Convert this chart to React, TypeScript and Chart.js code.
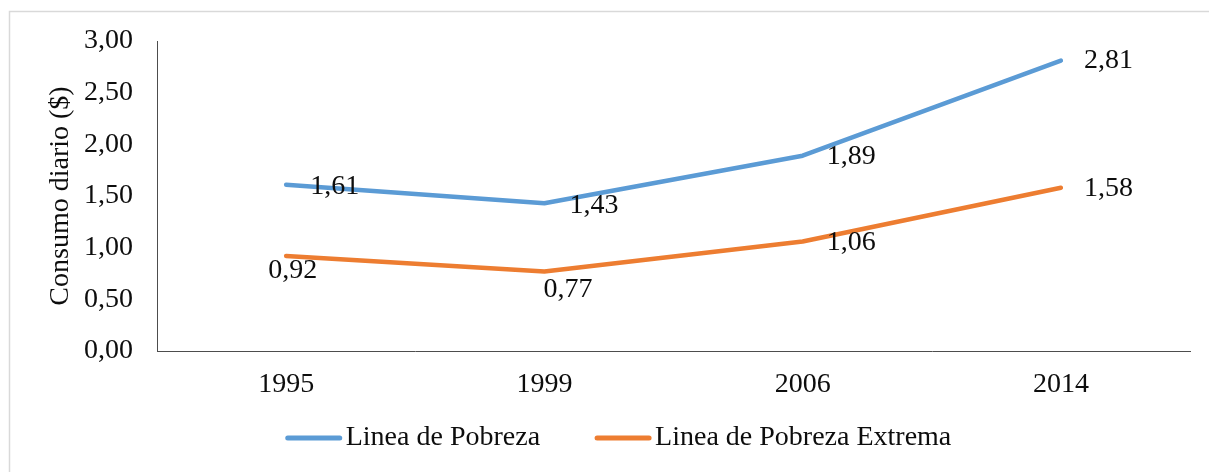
import React, { useEffect, useRef } from "react";
import { Chart, registerables } from "chart.js";
Chart.register(...registerables);

const categories = ["1995", "1999", "2006", "2014"];
const pobreza = [1.61, 1.43, 1.89, 2.81];
const pobrezaExtrema = [0.92, 0.77, 1.06, 1.58];
const seriesNames = ["Linea de Pobreza", "Linea de Pobreza Extrema"];
const yAxisTitle = "Consumo diario ($)";

const FONT = '"Liberation Serif", "Times New Roman", Times, serif';
const FONT_SIZE = 28;
const BLUE = "#5B9BD5";
const ORANGE = "#ED7D31";
const TEXT = "#0d0d0d";
const AXIS = "#4d4d4d";

const fmt = (v: number) => v.toFixed(2).replace(".", ",");

// per-dataset, per-point label offsets [dx, dy] (left-aligned text, dy = centre offset)
const labelOffsets: number[][][] = [
  [[24, 2], [25, 2], [24, 1], [23, 0]],
  [[-18, 15], [-1, 18], [24, 1], [23, 1]],
];

const framePlugin = {
  id: "frame",
  beforeDraw(chart: any) {
    const ctx = chart.ctx;
    ctx.save();
    ctx.fillStyle = "#ffffff";
    ctx.fillRect(0, 0, chart.width, chart.height);
    ctx.strokeStyle = "#d9d9d9";
    ctx.lineWidth = 1.5;
    ctx.strokeRect(9.5, 11.5, chart.width + 20, chart.height + 20);
    ctx.restore();
  },
};

const labelsPlugin = {
  id: "valueLabels",
  afterDatasetsDraw(chart: any) {
    const ctx = chart.ctx;
    ctx.save();
    ctx.font = `${FONT_SIZE}px ${FONT}`;
    ctx.fillStyle = TEXT;
    ctx.textAlign = "left";
    ctx.textBaseline = "middle";
    chart.data.datasets.forEach((ds: any, di: number) => {
      const meta = chart.getDatasetMeta(di);
      meta.data.forEach((pt: any, i: number) => {
        const off = labelOffsets[di][i];
        ctx.fillText(fmt(ds.data[i]), pt.x + off[0], pt.y + off[1]);
      });
    });
    ctx.restore();
  },
};

const legendPlugin = {
  id: "customLegend",
  afterDraw(chart: any) {
    const ctx = chart.ctx;
    ctx.save();
    ctx.font = `${FONT_SIZE}px ${FONT}`;
    const lineLen = 56;
    const gapText = 4;
    const gapItems = 55;
    const widths = chart.data.datasets.map((d: any) => ctx.measureText(d.label).width);
    const total = widths.reduce((a: number, w: number) => a + lineLen + gapText + w, 0) + gapItems * (widths.length - 1);
    let x = chart.width / 2 + 14 - total / 2;
    const y = 438;
    chart.data.datasets.forEach((d: any, i: number) => {
      ctx.strokeStyle = d.borderColor;
      ctx.lineWidth = 5;
      ctx.lineCap = "round";
      ctx.beginPath();
      ctx.moveTo(x + 2, y);
      ctx.lineTo(x + lineLen - 2, y);
      ctx.stroke();
      ctx.fillStyle = TEXT;
      ctx.textAlign = "left";
      ctx.textBaseline = "middle";
      ctx.fillText(d.label, x + lineLen + gapText, y);
      x += lineLen + gapText + widths[i] + gapItems;
    });
    ctx.restore();
  },
};

export default function App() {
  const ref = useRef<HTMLCanvasElement | null>(null);
  useEffect(() => {
    if (!ref.current) return;
    const chart = new Chart(ref.current, {
      type: "line",
      data: {
        labels: categories,
        datasets: [
          {
            label: seriesNames[0],
            data: pobreza,
            borderColor: BLUE,
            backgroundColor: BLUE,
            borderWidth: 4.5,
            pointRadius: 0,
            borderCapStyle: "round",
            borderJoinStyle: "round",
            tension: 0,
          },
          {
            label: seriesNames[1],
            data: pobrezaExtrema,
            borderColor: ORANGE,
            backgroundColor: ORANGE,
            borderWidth: 4.5,
            pointRadius: 0,
            borderCapStyle: "round",
            borderJoinStyle: "round",
            tension: 0,
          },
        ],
      },
      options: {
        responsive: false,
        animation: false,
        devicePixelRatio: 1,
        layout: { padding: { left: 0, right: 19, top: 41, bottom: 71 } },
        plugins: {
          legend: { display: false },
          tooltip: { enabled: false },
        },
        scales: {
          x: {
            offset: true,
            grid: { display: true, drawOnChartArea: false, drawTicks: false },
            border: { display: true, color: AXIS, width: 1 },
            ticks: {
              color: TEXT,
              font: { family: FONT, size: FONT_SIZE },
              padding: 17,
              maxRotation: 0,
            },
            afterFit: (s: any) => {
              s.height = 50;
            },
          },
          y: {
            min: 0,
            max: 3,
            grid: { display: true, drawOnChartArea: false, drawTicks: false },
            border: { display: true, color: AXIS, width: 1 },
            ticks: {
              stepSize: 0.5,
              color: TEXT,
              font: { family: FONT, size: FONT_SIZE },
              padding: 24,
              callback: (v: any) => fmt(Number(v)),
            },
            title: {
              display: true,
              text: yAxisTitle,
              color: TEXT,
              font: { family: FONT, size: FONT_SIZE },
              padding: { top: 44, bottom: 0 },
            },
            afterFit: (s: any) => {
              s.width = 157;
            },
          },
        },
      },
      plugins: [framePlugin, labelsPlugin, legendPlugin],
    });
    return () => chart.destroy();
  }, []);
  return (
    <canvas
      ref={ref}
      width={1209}
      height={472}
      style={{ position: "fixed", left: 0, top: 0, width: 1209, height: 472 }}
    />
  );
}
